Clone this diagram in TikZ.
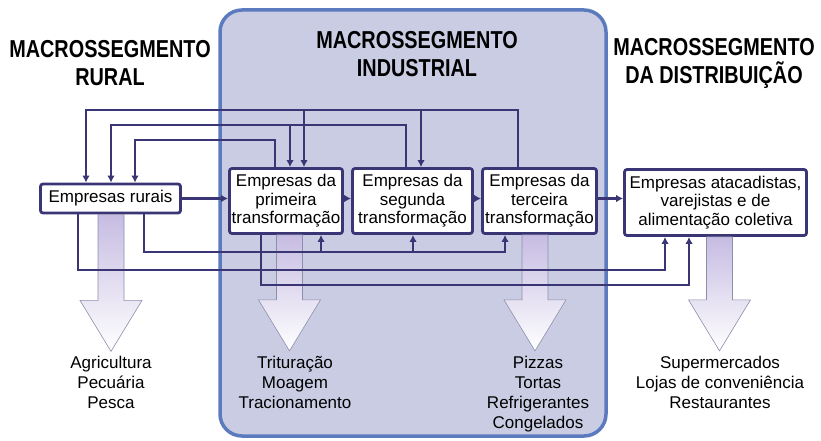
\documentclass[tikz,border=0pt]{standalone}
\usepackage{fontspec}
\setmainfont{Liberation Sans}
\newfontfamily\headfont[FakeStretch=0.81]{Liberation Sans}
\usepackage{tikz}
\usetikzlibrary{arrows.meta}
\definecolor{navy}{RGB}{58,54,118}
\definecolor{regionfill}{RGB}{201,204,226}
\definecolor{regionline}{RGB}{92,122,190}
\definecolor{shadetop}{RGB}{198,188,226}
\definecolor{shademid}{RGB}{236,236,244}
\definecolor{shadeline}{RGB}{140,142,172}
\tikzset{
	boxstyle/.style={rectangle,rounded corners=2.5pt,draw=navy,line width=2.8pt,fill=white,align=center,inner sep=2pt,font=\fontsize{17}{18.5}\selectfont},
	headstyle/.style={align=center,font=\headfont\bfseries\fontsize{24.5}{27.5}\selectfont},
	labelstyle/.style={align=center,anchor=north,inner sep=0pt,font=\fontsize{17}{20}\selectfont},
	flowstyle/.style={draw=navy,line width=2.3pt,-{Latex[length=7pt,width=7.5pt]}},
	bigarrowstyle/.style={draw=shadeline,line width=0.6pt,top color=shadetop,middle color=shademid,bottom color=white},
	regionstyle/.style={draw=regionline,fill=regionfill,line width=3.5pt,rounded corners=22pt}
}

\begin{document}
\begin{tikzpicture}[x=1pt,y=-1pt]
	\useasboundingbox (0,0) rectangle (821,441);
	\draw[regionstyle] (220,10) rectangle (606,436);
	\node[headstyle] (hr) at (110,63) {MACROSSEGMENTO\\RURAL};
	\node[headstyle] (hi) at (417,54) {MACROSSEGMENTO\\INDUSTRIAL};
	\node[headstyle] (hd) at (714,63.5) {MACROSSEGMENTO\\DA DISTRIBUIÇÃO};
	\node[boxstyle,minimum width=140pt,minimum height=29pt] (rur) at (110.5,198.5) {Empresas rurais};
	\node[boxstyle,minimum width=113pt,minimum height=65pt] (pri) at (286,201) {Empresas da\\primeira\\transformação};
	\node[boxstyle,minimum width=120pt,minimum height=65pt] (seg) at (412.5,201) {Empresas da\\segunda\\transformação};
	\node[boxstyle,minimum width=114pt,minimum height=65pt] (ter) at (539.5,201) {Empresas da\\terceira\\transformação};
	\node[boxstyle,minimum width=182pt,minimum height=66pt] (dis) at (715.5,202.5) {Empresas atacadistas,\\varejistas e de\\alimentação coletiva};
	\coordinate (ta) at (0,110);
	\coordinate (tb) at (0,125);
	\coordinate (tc) at (0,140);
	\coordinate (ba) at (0,252);
	\coordinate (bb) at (0,270);
	\coordinate (bc) at (0,285);
	% big arrows
	\draw[bigarrowstyle] ([xshift=0.5pt]rur.south) ++(-13,0) -- ++(26,0) -- ++(0,86) -- ++(18,0) -- ++(-31,51) -- ++(-31,-51) -- ++(18,0) -- cycle;
	\draw[bigarrowstyle] ([xshift=3.5pt]pri.south) ++(-13,0) -- ++(26,0) -- ++(0,65) -- ++(18,0) -- ++(-31,51) -- ++(-31,-51) -- ++(18,0) -- cycle;
	\draw[bigarrowstyle] ([xshift=-4.5pt]ter.south) ++(-13,0) -- ++(26,0) -- ++(0,65) -- ++(18,0) -- ++(-31,51) -- ++(-31,-51) -- ++(18,0) -- cycle;
	\draw[bigarrowstyle] ([xshift=4pt]dis.south) ++(-13,0) -- ++(26,0) -- ++(0,63) -- ++(18,0) -- ++(-31,51) -- ++(-31,-51) -- ++(18,0) -- cycle;
	% forward
	\draw[flowstyle] (rur.east) -- (rur.east -| pri.west);
	\draw[flowstyle] (pri.east |- rur) -- (seg.west |- rur);
	\draw[flowstyle] (seg.east |- rur) -- (ter.west |- rur);
	\draw[flowstyle] (ter.east |- rur) -- (dis.west |- rur);
	% back, above
	\draw[flowstyle] ([xshift=-21.5pt]ter.north) |- ([xshift=-24.5pt]rur.north |- ta) -- ([xshift=-24.5pt]rur.north);
	\draw[flowstyle] ([xshift=18pt]pri.north |- ta) -- ([xshift=18pt]pri.north);
	\draw[flowstyle] ([xshift=8.5pt]seg.north |- ta) -- ([xshift=8.5pt]seg.north);
	\draw[flowstyle] ([xshift=-6.5pt]seg.north) |- ([xshift=0.5pt]rur.north |- tb) -- ([xshift=0.5pt]rur.north);
	\draw[flowstyle] ([xshift=4pt]pri.north |- tb) -- ([xshift=4pt]pri.north);
	\draw[flowstyle] ([xshift=-11pt]pri.north) |- ([xshift=24.5pt]rur.north |- tc) -- ([xshift=24.5pt]rur.north);
	% below
	\draw[flowstyle] ([xshift=33.5pt]rur.south) |- ([xshift=-34.5pt]ter.south |- ba) -- ([xshift=-34.5pt]ter.south);
	\draw[flowstyle] ([xshift=35pt]pri.south |- ba) -- ([xshift=35pt]pri.south);
	\draw[flowstyle] ([xshift=0.5pt]seg.south |- ba) -- ([xshift=0.5pt]seg.south);
	\draw[flowstyle] ([xshift=-32.5pt]rur.south) |- ([xshift=-50.5pt]dis.south |- bb) -- ([xshift=-50.5pt]dis.south);
	\draw[flowstyle] ([xshift=-25pt]pri.south) |- ([xshift=-26.5pt]dis.south |- bc) -- ([xshift=-26.5pt]dis.south);
	% outputs
	\node[labelstyle] (lr) at (111,356) {Agricultura\\Pecuária\\Pesca};
	\node[labelstyle] (lp) at (295,356) {Trituração\\Moagem\\Tracionamento};
	\node[labelstyle] (lt) at (538,356) {Pizzas\\Tortas\\Refrigerantes\\Congelados};
	\node[labelstyle] (ld) at (720,356) {Supermercados\\Lojas de conveniência\\Restaurantes};
\end{tikzpicture}
\end{document}
